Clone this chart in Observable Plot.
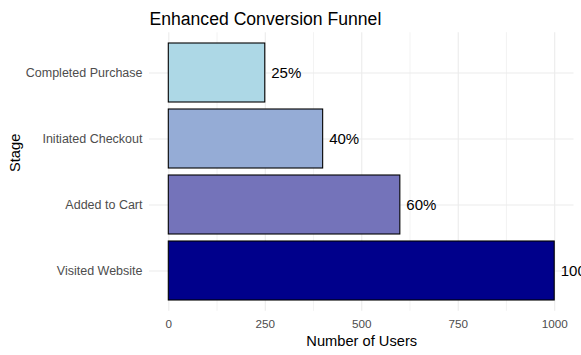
<!DOCTYPE html>
<html>
<head>
<meta charset="utf-8">
<script src="https://cdn.jsdelivr.net/npm/d3@7"></script>
<script src="https://cdn.jsdelivr.net/npm/@observablehq/plot@0.6"></script>
<style>
  html, body { margin: 0; padding: 0; background: #fff; }
  #chart svg { display: block; }
</style>
</head>
<body>
<div id="chart"></div>
<script>
const stages = ["Visited Website", "Added to Cart", "Initiated Checkout", "Completed Purchase"];
const users = [1000, 600, 400, 250];
const percentLabels = ["100%", "60%", "40%", "25%"];
const fills = ["#00008B", "#7473BA", "#95ACD6", "#ADD8E6"];
const majorTicks = [0, 250, 500, 750, 1000];
const minorTicks = [125, 375, 625, 875];
const titleText = "Enhanced Conversion Funnel";

const data = stages.map((s, i) => ({stage: s, users: users[i], label: percentLabels[i], fill: fills[i]}));
const font = "'Liberation Sans', Arial, sans-serif";

const chart = Plot.plot({
  width: 581,
  height: 355,
  marginLeft: 149,
  marginRight: 7.5,
  marginTop: 32.2,
  marginBottom: 44.2,
  style: {fontFamily: font, background: "#fff", overflow: "hidden"},
  x: {domain: [-50, 1050], ticks: majorTicks, label: null},
  y: {domain: [...stages].reverse(), paddingInner: 0.1, paddingOuter: 0.15, label: null},
  marks: [
    Plot.gridX(minorTicks, {stroke: "#EBEBEB", strokeOpacity: 1, strokeWidth: 0.6}),
    Plot.gridX(majorTicks, {stroke: "#EBEBEB", strokeOpacity: 1, strokeWidth: 1.1}),
    Plot.gridY(stages, {stroke: "#EBEBEB", strokeOpacity: 1, strokeWidth: 1.1}),
    Plot.barX(data, {y: "stage", x1: 0, x2: "users", fill: "fill", stroke: "black", strokeWidth: 1.1}),
    Plot.text(data, {y: "stage", x: "users", text: "label", textAnchor: "start", dx: 6, fontSize: 15, fill: "black"}),
    Plot.axisX(majorTicks, {tickSize: 0, tickPadding: 8, fontSize: 11.7, fill: "#4D4D4D", label: null, tickFormat: d => String(d)}),
    Plot.axisY(stages, {tickSize: 0, tickPadding: 7, fontSize: 12.5, fill: "#4D4D4D", label: null}),
    Plot.text([titleText], {frameAnchor: "top-left", dy: -8.2, dx: 0, lineAnchor: "bottom", fontSize: 17.6, fill: "black", textAnchor: "start"}),
    Plot.text(["Number of Users"], {frameAnchor: "bottom", dy: 35, lineAnchor: "bottom", fontSize: 14.67, fill: "black"}),
    Plot.text(["Stage"], {frameAnchor: "left", dx: -130, rotate: -90, lineAnchor: "bottom", fontSize: 14.67, fill: "black"})
  ]
});
document.getElementById("chart").appendChild(chart);
</script>
</body>
</html>
